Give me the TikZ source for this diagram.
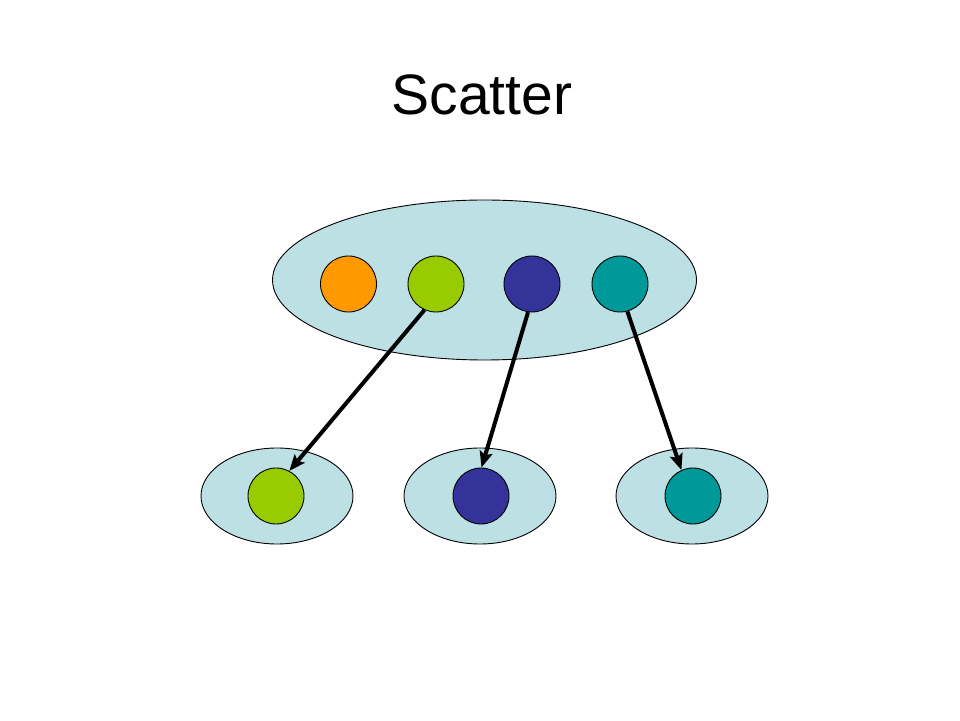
\documentclass[tikz,border=0pt]{standalone}
\usepackage{fontspec}
\setmainfont{Liberation Sans}
\usetikzlibrary{shapes.geometric,arrows.meta}

\definecolor{groupfill}{RGB}{188,224,228}
\definecolor{dorange}{RGB}{255,153,0}
\definecolor{dgreen}{RGB}{153,204,0}
\definecolor{dblue}{RGB}{51,51,153}
\definecolor{dteal}{RGB}{0,153,153}

\tikzset{
  group/.style={ellipse,draw,fill=groupfill,line width=0.9pt,inner sep=0pt},
  item/.style={circle,draw,line width=0.9pt,inner sep=0pt,minimum size=56pt},
  send/.style={line width=4pt,-{Stealth[length=16pt,width=13pt,inset=3pt]}}
}

\begin{document}
\begin{tikzpicture}[x=1pt,y=1pt]
\useasboundingbox (0,0) rectangle (960,720);

% title
\node[anchor=base,font=\fontsize{57}{60}\selectfont] (title) at (482,605) {Scatter};

% root group and its four items
\node[group,minimum width=424pt,minimum height=160pt] (root) at (484.5,440) {};
\node[item,fill=dorange] (r1) at (348.5,436) {};
\node[item,fill=dgreen] (r2) at (436,436) {};
\node[item,fill=dblue] (r3) at (532,436) {};
\node[item,fill=dteal] (r4) at (620,436) {};

% receiving groups
\node[group,minimum width=152pt,minimum height=96pt] (p1) at (277,224) {};
\node[group,minimum width=152pt,minimum height=96pt] (p2) at (480,224) {};
\node[group,minimum width=152pt,minimum height=96pt] (p3) at (692,224) {};
\node[item,fill=dgreen] (q1) at (276,224) {};
\node[item,fill=dblue] (q2) at (481,224) {};
\node[item,fill=dteal] (q3) at (693,224) {};

% draw the arrows
\draw[send] (r2.-114) -- (q1.62);
\draw[send] (r3.-98) -- (q2.89);
\draw[send] (r4.-75) -- (q3.114);
\end{tikzpicture}
\end{document}
